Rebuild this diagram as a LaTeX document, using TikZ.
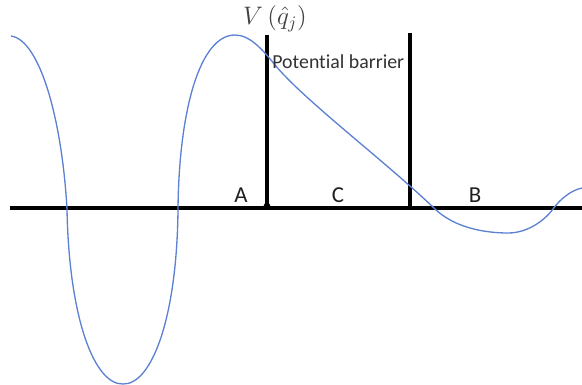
\documentclass[tikz,border=0pt]{standalone}
\usepackage{fontspec}
\setmainfont{Carlito}[Ligatures={NoCommon}]
\usepackage{amsmath}
\usetikzlibrary{positioning}
\definecolor{curveblue}{RGB}{92,128,210}

\begin{document}
\begin{tikzpicture}[
    x=0.02cm, y=-0.02cm,
    axis/.style={line width=2.1pt},
    wall/.style={line width=1.8pt},
    wave/.style={curveblue, line width=0.75pt},
    region/.style={font=\fontsize{13}{15}\selectfont, text=black!88, inner sep=0pt, anchor=base},
    lbl/.style={font=\fontsize{11.3}{13}\selectfont, text=black!80, inner sep=0pt, anchor=base west}
]
\useasboundingbox (0,0) rectangle (582,385);

% axis and barrier walls
\coordinate (xl) at (10,208);
\coordinate (xr) at (582,208);
\coordinate (wa) at (267,208);
\coordinate (wat) at (267,35);
\coordinate (wb) at (410,208);
\coordinate (wbt) at (410,33);

\draw[axis] (xl) -- (xr);
\draw[wall] (wa) -- (wat);
\draw[wall] (wb) -- (wbt);
\fill (wa) ++(0,-1.5) circle (3.6);

% potential curve
\draw[wave] (11,36) .. controls (40,40) and (62,120) .. (67,209)
  .. controls (69,320) and (95,385) .. (123,384)
  .. controls (151,385) and (177,320) .. (178,209)
  .. controls (179,110) and (200,35) .. (235,35)
  .. controls (250,35) and (263,50) .. (275,65)
  .. controls (305,101) and (385,161) .. (435,209)
  .. controls (455,228) and (485,233) .. (508,233)
  .. controls (528,233) and (545,220) .. (553,209)
  .. controls (561,198) and (572,190) .. (582,188);

% labels
\node[text=black!75, inner sep=0pt, font=\fontsize{14}{16}\selectfont] (vq) at (275,19) {$V\left(\hat{q}_j\right)$};
\node[lbl] (pb) at (272,69) {Potential barrier};
\node[region] (ra) at (241,203) {A};
\node[region] (rc) at (338,203) {C};
\node[region] (rb) at (475,203) {B};
\end{tikzpicture}
\end{document}
